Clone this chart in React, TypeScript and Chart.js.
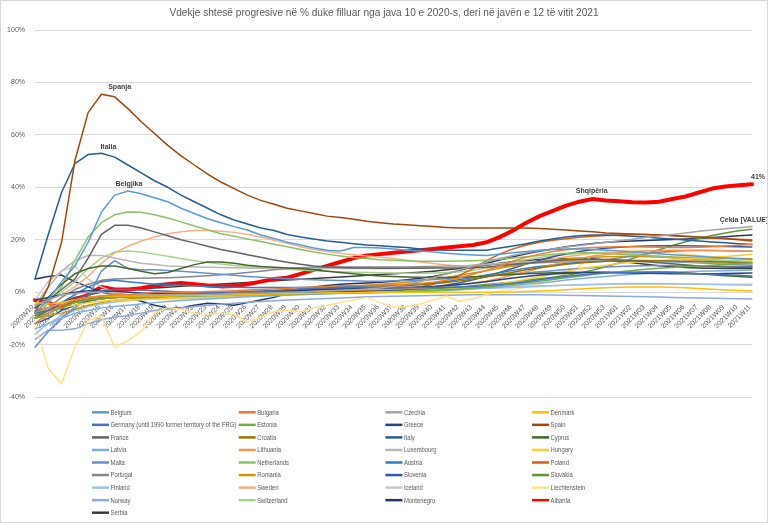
import React, { useEffect, useRef } from 'react';
import { Chart, registerables } from 'chart.js';

Chart.register(...registerables);

const chartTitle = 'Vdekje shtesë progresive në % duke filluar nga java 10 e 2020-s, deri në javën e 12 të vitit 2021';

const weeks = [
  '2020W10', '2020W11', '2020W12', '2020W13', '2020W14', '2020W15', '2020W16', '2020W17', '2020W18', '2020W19',
  '2020W20', '2020W21', '2020W22', '2020W23', '2020W24', '2020W25', '2020W26', '2020W27', '2020W28', '2020W29',
  '2020W30', '2020W31', '2020W32', '2020W33', '2020W34', '2020W35', '2020W36', '2020W37', '2020W38', '2020W39',
  '2020W40', '2020W41', '2020W42', '2020W43', '2020W44', '2020W45', '2020W46', '2020W47', '2020W48', '2020W49',
  '2020W50', '2020W51', '2020W52', '2020W53', '2021W01', '2021W02', '2021W03', '2021W04', '2021W05', '2021W06',
  '2021W07', '2021W08', '2021W09', '2021W10', '2021W11',
];

const yTicks = [-40, -20, 0, 20, 40, 60, 80, 100];

const countries = [
  'Belgium', 'Bulgaria', 'Czechia', 'Denmark',
  'Germany (until 1990 former territory of the FRG)', 'Estonia', 'Greece', 'Spain',
  'France', 'Croatia', 'Italy', 'Cyprus',
  'Latvia', 'Lithuania', 'Luxembourg', 'Hungary',
  'Malta', 'Netherlands', 'Austria', 'Poland',
  'Portugal', 'Romania', 'Slovenia', 'Slovakia',
  'Finland', 'Sweden', 'Iceland', 'Liechtenstein',
  'Norway', 'Switzerland', 'Montenegro', 'Albania',
  'Serbia',
];

const colors = [
  '#5B9BD5', '#ED7D31', '#A5A5A5', '#FFC000',
  '#4472C4', '#70AD47', '#264478', '#9E480E',
  '#636363', '#997300', '#255E91', '#43682B',
  '#7CAFDD', '#F1975A', '#B7B7B7', '#FFCD33',
  '#698ED0', '#8CC168', '#327DC2', '#D26012',
  '#878787', '#CC9A00', '#335AA1', '#5E9732',
  '#9DC3E6', '#F4B183', '#C9C9C9', '#FFE18B',
  '#8FAADC', '#A9D18E', '#1F3864', '#FF0000',
  '#3B3B3B',
];

// cumulative excess deaths, % per week
const belgium = [-8, -3, 4, 10, 19, 30.5, 37, 38.6, 37.5, 36, 34.5, 32, 30, 28, 26.5, 25, 23.7, 21.8, 20.5, 19, 18, 16.8, 16, 15.7, 17, 17, 16.8, 16.5, 16, 15.7, 15.3, 14.8, 14.5, 14.2, 14, 14.5, 15, 15.5, 16, 16.3, 16.5, 16.5, 16.3, 16, 15.7, 15.3, 15, 14.6, 14.3, 14, 13.7, 13.3, 13, 12.7, 12.5];
const bulgaria = [-12, -8, -5, -3, -2, -1.5, -1, -1, -0.5, 0, 0, 0, 0, 0.2, 0.3, 0.5, 0.8, 1, 1.2, 1.5, 1.8, 2, 2.2, 2.4, 2.5, 2.6, 2.7, 2.8, 3, 3.3, 3.8, 4.5, 5.5, 6.8, 8.3, 10, 11.8, 13.3, 14.5, 15.5, 16.2, 16.7, 17, 17.2, 17.3, 17.3, 17.2, 17.1, 17, 17, 17.1, 17.3, 17.6, 17.9, 18.2];
const czechia = [-5, -3, -1, -0.5, 0, 0, -0.5, -1, -1, -1, -1, -1, -1, -0.8, -0.7, -0.5, -0.4, -0.3, -0.2, 0, 0, 0.2, 0.4, 0.6, 0.8, 1.2, 1.6, 2.2, 3, 4, 5.5, 7, 8.5, 10, 11.5, 12.8, 14, 15, 15.8, 16.5, 17.2, 17.8, 18.4, 19, 19.6, 20.2, 20.8, 21.4, 22, 22.6, 23.2, 23.7, 24.2, 24.6, 25];
const denmark = [-4, -4.5, -4, -3, -2, -1.5, -1.5, -1.5, -1.5, -1.5, -1.5, -1.3, -1.2, -1.2, -1.2, -1, -1, -0.8, -0.7, -0.6, -0.5, -0.4, -0.3, -0.2, -0.2, -0.1, 0, 0, 0, 0, 0, 0, 0, 0, 0, 0, 0.1, 0.2, 0.4, 0.6, 0.9, 1.2, 1.5, 1.7, 1.9, 2, 2, 2, 1.9, 1.7, 1.4, 1.1, 0.8, 0.6, 0.4];
const germany = [-8, -7, -5, -3, -1, 0.5, 1, 1, 0.8, 0.5, 0.3, 0.1, 0, 0, 0, 0, 0.2, 0.4, 0.6, 1, 1.3, 1.5, 1.6, 1.7, 1.8, 1.8, 1.8, 1.8, 1.8, 1.8, 1.8, 1.9, 2, 2.2, 2.5, 2.9, 3.4, 4, 4.7, 5.4, 6, 6.5, 7, 7.3, 7.5, 7.6, 7.6, 7.5, 7.4, 7.2, 7, 6.8, 6.6, 6.4, 6.2];
const estonia = [-10, -8, -6, -4, -3, -2.5, -2, -2, -2, -2, -1.8, -1.6, -1.5, -1.4, -1.3, -1.2, -1.1, -1, -0.9, -0.8, -0.7, -0.6, -0.5, -0.4, -0.3, -0.2, -0.1, 0, 0.2, 0.4, 0.6, 0.9, 1.2, 1.6, 2, 2.5, 3, 3.6, 4.2, 4.8, 5.5, 6.1, 6.7, 7.3, 7.8, 8.3, 8.7, 9.1, 9.4, 9.7, 10, 10.3, 10.6, 10.9, 11.2];
const greece = [-3, -2, -1, 0, 0.5, 0.5, 0.3, 0, -0.3, -0.5, -0.7, -0.8, -0.8, -0.8, -0.7, -0.6, -0.5, -0.3, 0, 0.3, 0.6, 0.9, 1.1, 1.3, 1.4, 1.5, 1.6, 1.7, 1.8, 2, 2.2, 2.5, 2.9, 3.4, 4, 4.7, 5.4, 6, 6.5, 6.9, 7.2, 7.4, 7.5, 7.5, 7.4, 7.3, 7.2, 7.1, 7, 7, 7, 7, 7.1, 7.2, 7.3];
const spain = [-8, 2, 19, 50, 68.5, 75.5, 74.5, 70, 65, 60.5, 56, 52, 48.5, 45, 42, 39.5, 37, 35, 33.5, 32, 31, 30, 29, 28.5, 27.8, 27, 26.5, 26, 25.7, 25.3, 25, 24.7, 24.5, 24.5, 24.5, 24.5, 24.5, 24.5, 24.3, 24, 23.7, 23.3, 23, 22.6, 22.4, 22.2, 22, 21.8, 21.6, 21.3, 21, 20.7, 20.4, 20, 19.5];
const france = [-6, -3, 1, 5, 13, 22, 25.5, 25.5, 24.5, 23, 21.5, 20, 18.8, 17.5, 16.3, 15.3, 14.3, 13.3, 12.3, 11.4, 10.6, 10, 9.6, 9.4, 9.2, 9.2, 9.1, 9.1, 9.1, 9.1, 9.2, 9.2, 9.2, 9.3, 9.5, 10, 10.5, 11, 11.5, 12, 12.3, 12.5, 12.5, 12.5, 12.3, 12, 11.6, 11.2, 10.8, 10.4, 10, 9.8, 9.6, 9.5, 9.5];
const croatia = [-9, -7, -5, -4, -3, -2.5, -2, -1.8, -1.6, -1.4, -1.2, -1, -0.8, -0.6, -0.4, -0.2, 0, 0.2, 0.4, 0.6, 0.8, 1, 1.2, 1.4, 1.6, 1.8, 2, 2.2, 2.5, 2.8, 3.2, 3.7, 4.3, 5, 5.8, 6.7, 7.6, 8.5, 9.3, 10, 10.6, 11.1, 11.5, 11.8, 12, 12.1, 12.1, 12, 11.9, 11.8, 11.7, 11.6, 11.5, 11.4, 11.3];
const italy = [5, 22, 38, 49, 52.5, 53, 51.5, 48.5, 45.5, 42.5, 40, 37, 34.5, 32, 29.5, 27.5, 26, 24.5, 23.5, 22, 21, 20.3, 19.5, 19, 18.5, 18, 17.7, 17.3, 17, 16.5, 16.2, 16, 16, 16, 16, 16.8, 17.6, 18.5, 19.5, 20.3, 21, 21.5, 21.8, 21.8, 21.6, 21.3, 21, 20.6, 20.3, 19.9, 19.5, 19.1, 18.8, 18.5, 18.2];
const cyprus = [-6, -2, 3, 7, 9, 10, 10, 9, 8, 7, 7.5, 9, 10.5, 11.5, 11.5, 11, 10.3, 9.8, 9.5, 9.2, 9, 8.5, 8, 7.5, 7, 6.5, 6.2, 6, 5.8, 5.7, 5.6, 5.6, 5.7, 5.9, 6.1, 6.4, 6.7, 7, 7.2, 7.4, 7.5, 7.6, 7.6, 7.6, 7.5, 7.5, 7.6, 7.7, 7.6, 7.3, 7, 6.6, 6.3, 6, 5.7];
const latvia = [-14, -12, -10, -8, -7, -6, -5.5, -5, -4.5, -4, -3.6, -3.2, -2.9, -2.6, -2.3, -2, -1.8, -1.6, -1.4, -1.2, -1, -0.8, -0.6, -0.4, -0.3, -0.2, -0.1, 0, 0.1, 0.2, 0.4, 0.6, 0.9, 1.2, 1.6, 2, 2.5, 3, 3.5, 4, 4.6, 5.1, 5.6, 6, 6.4, 6.8, 7.1, 7.4, 7.6, 7.8, 8, 8.1, 8.2, 8.3, 8.4];
const lithuania = [-8, -6, -4, -3, -2, -1.5, -1, -1, -0.8, -0.6, -0.5, -0.4, -0.3, -0.2, -0.1, 0, 0.1, 0.2, 0.3, 0.4, 0.5, 0.6, 0.7, 0.8, 0.9, 1, 1.1, 1.2, 1.4, 1.6, 1.9, 2.3, 2.8, 3.5, 4.3, 5.3, 6.5, 7.8, 9.2, 10.5, 11.7, 12.8, 13.7, 14.4, 15, 15.4, 15.7, 15.9, 16, 16, 16, 15.9, 15.8, 15.7, 15.6];
const luxembourg = [-5, 2, 8, 12, 14, 14, 13, 12, 11, 10.5, 10, 9.8, 9.6, 9.5, 9.4, 9.3, 9.2, 9.1, 9, 9, 9, 9, 9, 9, 9, 9, 9, 9, 9.1, 9.2, 9.4, 9.7, 10, 10.3, 10.6, 10.9, 11.2, 11.4, 11.6, 11.8, 12, 12.1, 12.2, 12.2, 12.2, 12.1, 12, 11.9, 11.8, 11.6, 11.4, 11.2, 11, 10.8, 10.6];
const hungary = [-8, -7, -6, -5, -4, -3.5, -3, -3, -2.8, -2.6, -2.4, -2.2, -2, -1.8, -1.6, -1.4, -1.2, -1, -0.9, -0.8, -0.7, -0.6, -0.5, -0.4, -0.3, -0.2, -0.1, 0, 0.2, 0.4, 0.7, 1, 1.4, 1.9, 2.5, 3.2, 4, 4.9, 5.9, 6.9, 7.9, 8.8, 9.6, 10.3, 10.9, 11.4, 11.8, 12.1, 12.4, 12.7, 13, 13.3, 13.6, 14, 14.5];
const malta = [-21, -15, -10, -6, -2, 8, 12, 9, 8.5, 8.5, 8.3, 8, 7.6, 7.2, 6.8, 6.4, 6, 5.7, 5.4, 5.1, 4.9, 4.7, 4.5, 4.4, 4.3, 4.2, 4.2, 4.3, 4.4, 4.6, 4.8, 5.1, 5.4, 5.8, 6.2, 6.6, 7, 7.4, 7.8, 8.2, 8.6, 9, 9.3, 9.6, 9.8, 10, 10.1, 10.2, 10.2, 10.2, 10.1, 10, 9.9, 9.8, 9.7];
const netherlands = [-10, -4, 2, 12, 21, 26.5, 29.5, 30.6, 30.5, 29.5, 28.3, 26.8, 25.2, 23.8, 22.3, 21.3, 20.3, 19.3, 18.3, 17.3, 16.3, 15.3, 14.5, 13.8, 13.2, 12.8, 12.4, 12.2, 12, 11.8, 11.8, 11.8, 11.9, 12, 12.2, 12.5, 13, 13.5, 14, 14.5, 14.8, 15, 15, 14.8, 14.5, 14.2, 14, 13.6, 13.2, 12.8, 12.4, 12, 11.6, 11.3, 11];
const austria = [-10, -7, -4, -1, 2, 4, 4.5, 4, 3.5, 3, 2.8, 2.6, 2.4, 2.2, 2, 1.9, 1.8, 1.8, 1.8, 1.8, 1.8, 1.9, 2, 2.1, 2.2, 2.3, 2.4, 2.6, 2.8, 3.1, 3.5, 4.1, 4.8, 5.6, 6.5, 7.4, 8.3, 9.1, 9.8, 10.4, 10.9, 11.3, 11.6, 11.8, 11.9, 11.9, 11.8, 11.7, 11.6, 11.4, 11.2, 11, 10.8, 10.6, 10.4];
const poland = [-7, -6, -5, -4, -3, -2.5, -2, -1.8, -1.6, -1.4, -1.2, -1, -0.8, -0.6, -0.4, -0.2, 0, 0.1, 0.2, 0.3, 0.4, 0.5, 0.6, 0.7, 0.8, 0.9, 1, 1.2, 1.5, 2, 3, 4.5, 6.5, 9, 12, 14.5, 16.5, 18, 19, 19.8, 20.4, 20.9, 21.3, 21.6, 21.8, 22, 22, 21.8, 21.5, 21.2, 21, 20.8, 20.5, 20.2, 20];
const portugal = [-10, -6, -2, 1, 3, 4.5, 5, 5.2, 5.3, 5.4, 5.5, 5.7, 6, 6.3, 6.6, 7, 7.5, 8, 8.5, 9, 9.3, 9.5, 9.6, 9.6, 9.6, 9.6, 9.6, 9.6, 9.6, 9.7, 9.8, 9.9, 10, 10.2, 10.4, 10.6, 10.8, 11, 11.2, 11.4, 11.6, 11.8, 12, 12.4, 13, 13.8, 14.6, 15.2, 15.6, 15.8, 15.9, 15.9, 15.8, 15.7, 15.6];
const romania = [-10, -9, -8, -6.5, -5, -4, -3.2, -2.6, -2.2, -1.9, -1.6, -1.4, -1.2, -1, -0.8, -0.6, -0.4, -0.2, 0, 0.3, 0.6, 1, 1.4, 1.8, 2.2, 2.6, 3, 3.4, 3.8, 4.3, 4.9, 5.6, 6.4, 7.3, 8.2, 9.1, 10, 10.8, 11.5, 12.1, 12.6, 13, 13.3, 13.5, 13.6, 13.6, 13.5, 13.4, 13.3, 13.2, 13.1, 13, 12.9, 12.8, 12.7];
const slovenia = [-12, -10, -7, -5, -3.5, -2.5, -2, -1.8, -1.6, -1.4, -1.2, -1, -0.9, -0.8, -0.7, -0.6, -0.5, -0.4, -0.3, -0.2, -0.1, 0, 0.1, 0.2, 0.3, 0.4, 0.6, 0.8, 1.1, 1.5, 2, 2.7, 3.6, 4.7, 6, 7.5, 9.1, 10.7, 12.2, 13.5, 14.6, 15.5, 16.2, 16.7, 17.1, 17.4, 17.6, 17.7, 17.7, 17.7, 17.6, 17.5, 17.4, 17.3, 17.2];
const slovakia = [-8, -7, -5, -3.5, -2.5, -2, -1.8, -1.6, -1.4, -1.2, -1.1, -1, -0.9, -0.8, -0.7, -0.6, -0.5, -0.4, -0.3, -0.2, -0.1, 0, 0.1, 0.2, 0.3, 0.4, 0.5, 0.6, 0.8, 1, 1.3, 1.6, 2, 2.4, 2.9, 3.4, 3.9, 4.5, 5.1, 5.7, 6.4, 7.3, 8.4, 9.7, 11.2, 12.8, 14.5, 16.2, 17.8, 19.2, 20.5, 21.6, 22.6, 23.4, 24];
const finland = [-16, -12, -9, -7, -5.5, -4.5, -3.8, -3.3, -2.9, -2.6, -2.3, -2.1, -1.9, -1.7, -1.5, -1.3, -1.1, -0.9, -0.7, -0.5, -0.3, -0.1, 0.1, 0.3, 0.5, 0.6, 0.7, 0.8, 0.9, 1, 1.1, 1.2, 1.3, 1.4, 1.5, 1.6, 1.8, 2, 2.2, 2.4, 2.6, 2.8, 3, 3.1, 3.2, 3.3, 3.3, 3.3, 3.2, 3.1, 3, 2.9, 2.8, 2.7, 2.6];
const sweden = [-5, -3, -1, 2, 6, 11, 15, 17.5, 19.5, 21, 22.3, 23, 23.5, 23.5, 23.2, 22.8, 22, 21, 19.8, 18.6, 17.3, 16.3, 15.5, 14.8, 14.3, 13.8, 13.3, 12.8, 12.2, 11.5, 10.9, 10.4, 10, 9.6, 9.4, 9.5, 10, 10.8, 11.7, 12.7, 13.5, 14.2, 14.8, 15, 15, 14.7, 14.2, 13.6, 13, 12.4, 11.8, 11.3, 10.8, 10.4, 10];
const iceland = [-3, 4, 8, 10, 5, 2, 0, -1, -2, -2.5, -2.5, -2.5, -2.3, -2.1, -1.9, -1.7, -1.5, -1.3, -1.1, -0.9, -0.7, -0.5, -0.3, -0.1, 0.1, 0.3, 0.5, 0.7, 0.9, 1.1, 1.3, 1.5, 1.7, 1.9, 2, 2.1, 2.2, 2.3, 2.4, 2.5, 2.6, 2.7, 2.8, 2.9, 3, 3, 3, 3, 3, 3, 3, 3, 3, 3, 3];
const liechtenstein = [-12, -29, -35, -21, -11, -9, -21, -18.5, -15, -8, -5.8, -6.5, -8, -8.5, -8, -8.5, -11.5, -9.5, -7.5, -7, -7.5, -6, -5, -4, -3, -2, -4, -5.7, -5.5, -4.5, -3, -1.5, -3.5, -2.5, -1, 0.5, 1, 2, 3, 5, 7, 10, 14, 15.5, 16, 16, 16, 15.5, 15, 14.5, 14, 13.5, 13, 12.5, 12];
const norway = [-18, -14.5, -14.5, -14, -12, -10.5, -9.5, -9, -8, -7, -6.5, -6, -5.5, -5, -4.6, -4.2, -3.9, -3.6, -3.3, -3, -2.8, -2.6, -2.4, -2.2, -2, -1.8, -1.7, -1.6, -1.5, -1.4, -1.3, -1.2, -1.1, -1, -1, -1, -1, -1, -1, -1.1, -1.2, -1.3, -1.4, -1.5, -1.6, -1.7, -1.8, -1.9, -2, -2.1, -2.2, -2.3, -2.4, -2.5, -2.6];
const switzerland = [-6, -3, 0, 4, 9, 13, 15.3, 15.7, 15.3, 14.5, 13.7, 12.8, 12, 11.3, 10.7, 10.2, 9.7, 9.3, 9, 8.7, 8.4, 8.2, 8, 7.8, 7.6, 7.5, 7.4, 7.3, 7.2, 7.2, 7.3, 7.5, 7.8, 8.3, 9.2, 10.3, 11.4, 12.4, 13.2, 13.9, 14.4, 14.7, 14.8, 14.8, 14.6, 14.4, 14.1, 13.8, 13.4, 13.1, 12.8, 12.5, 12.2, 12, 11.8];
const montenegro = [5, 6, 6.5, 4, 2, 0, -1, -2, -3.5, -5, -6, -6, -5, -4.2, -4.5, -5, -4, -3, -2, -0.5, 1, 2, 2.5, 3, 3.3, 3.5, 3.8, 4.2, 4.7, 5.3, 6, 7, 8.3, 9.7, 11, 12.3, 13.5, 14.6, 15.6, 16.5, 17.3, 18, 18.6, 19, 19.3, 19.5, 19.7, 19.9, 20.1, 20.3, 20.5, 20.8, 21.1, 21.5, 21.8];
const albania = [-3, -4, -6, -3, -1, 2, 1, 1, 1.5, 2.5, 3, 3.5, 3, 2.5, 2.2, 2.3, 3, 4, 5, 5.5, 7, 8.5, 10, 11.5, 13, 14, 14.5, 15, 15.5, 16, 16.5, 17, 17.5, 18, 19, 21, 23.5, 26.5, 29, 31, 33, 34.5, 35.5, 35, 34.7, 34.3, 34.2, 34.5, 35.5, 36.5, 38, 39.5, 40.3, 40.8, 41.2];
const serbia = [-8, -6, -4, -2, -1, 0, 0.5, 1, 1.3, 1.6, 1.9, 2.2, 2.5, 2.8, 3.1, 3.4, 3.7, 4, 4.3, 4.6, 4.9, 5.2, 5.5, 5.8, 6.1, 6.4, 6.7, 7, 7.3, 7.6, 8, 8.5, 9, 9.6, 10.3, 11, 11.6, 12.1, 12.5, 12.7, 12.8, 12.8, 12.7, 12.3, 11.8, 11.2, 10.6, 10.1, 9.7, 9.4, 9.2, 9.1, 9, 9, 9];

const seriesValues = [
  belgium, bulgaria, czechia, denmark,
  germany, estonia, greece, spain,
  france, croatia, italy, cyprus,
  latvia, lithuania, luxembourg, hungary,
  malta, netherlands, austria, poland,
  portugal, romania, slovenia, slovakia,
  finland, sweden, iceland, liechtenstein,
  norway, switzerland, montenegro, albania,
  serbia,
];

// text labels hung on single points: [series, week index, text]
const pointLabels: [string, number, string][] = [
  ['Spain', 6, 'Spanja'],
  ['Italy', 5, 'Italia'],
  ['Belgium', 7, 'Belgjika'],
  ['Albania', 42, 'Shqipëria'],
  ['Albania', 54, '41%'],
  ['Czechia', 54, 'Çekia [VALUE]'],
];
const labelOffsets = [[5, -10], [7, -6], [1, -7], [-1, -8], [6, -7], [-8, -7]];

const FONT = '"Liberation Sans", Arial, sans-serif';

// Calibri-like narrow text
function narrowText(ctx: CanvasRenderingContext2D, text: string, x: number, y: number, squeeze: number) {
  ctx.save();
  ctx.translate(x, y);
  ctx.scale(squeeze, 1);
  ctx.fillText(text, 0, 0);
  ctx.restore();
}

const overlay = {
  id: 'overlay',
  afterDraw(chart: any) {
    const ctx = chart.ctx as CanvasRenderingContext2D;
    ctx.save();

    ctx.fillStyle = '#595959';
    ctx.font = `11.5px ${FONT}`;
    ctx.textAlign = 'center';
    ctx.textBaseline = 'middle';
    narrowText(ctx, chartTitle, chart.width / 2, 12, 0.88);

    ctx.fillStyle = '#404040';
    ctx.font = `bold 7px ${FONT}`;
    pointLabels.forEach(([name, idx, text], k) => {
      const di = countries.indexOf(name);
      const pt = chart.getDatasetMeta(di).data[idx];
      if (!pt) return;
      ctx.fillText(text, pt.x + labelOffsets[k][0], pt.y + labelOffsets[k][1]);
    });

    // legend in four columns
    ctx.font = `7px ${FONT}`;
    ctx.textAlign = 'left';
    chart.data.datasets.forEach((ds: any, k: number) => {
      const x = 91 + (k % 4) * 146.7;
      const y = 411.3 + Math.floor(k / 4) * 12.55;
      ctx.strokeStyle = ds.borderColor;
      ctx.lineWidth = 2.5;
      ctx.beginPath();
      ctx.moveTo(x, y);
      ctx.lineTo(x + 17, y);
      ctx.stroke();
      ctx.fillStyle = '#595959';
      narrowText(ctx, ds.label, x + 18.5, y + 0.5, 0.84);
    });

    ctx.restore();
  },
};

export default function App() {
  const canvasRef = useRef<HTMLCanvasElement>(null);
  const chartRef = useRef<Chart | null>(null);

  useEffect(() => {
    document.body.style.margin = '0';
    if (!canvasRef.current) return;
    if (chartRef.current) chartRef.current.destroy();

    chartRef.current = new Chart(canvasRef.current, {
      type: 'line',
      data: {
        labels: weeks,
        datasets: countries.map((name, k) => ({
          label: name,
          data: seriesValues[k],
          borderColor: colors[k],
          backgroundColor: colors[k],
          borderWidth: name === 'Albania' ? 4 : 1.5,
          borderJoinStyle: 'round' as const,
          borderCapStyle: 'round' as const,
          pointRadius: 0,
          tension: 0,
          fill: false,
        })),
      },
      options: {
        animation: false,
        responsive: true,
        maintainAspectRatio: false,
        events: [],
        layout: { padding: { top: 29, right: 15, bottom: 125, left: 0 } },
        scales: {
          x: {
            position: { y: 0 } as any,
            afterFit: (scale: any) => { scale.height = 0; },
            grid: { display: false },
            border: { display: true, color: '#d9d9d9' },
            ticks: {
              autoSkip: false,
              maxRotation: 45,
              minRotation: 45,
              padding: 3,
              labelOffset: -2,
              color: '#595959',
              font: { size: 7, family: FONT },
            },
          },
          y: {
            min: -40,
            max: 100,
            afterFit: (scale: any) => { scale.width = 34; },
            afterBuildTicks: (scale: any) => { scale.ticks = yTicks.map((v) => ({ value: v })); },
            grid: { color: '#d9d9d9', drawTicks: false },
            border: { display: false },
            ticks: {
              padding: 10,
              color: '#595959',
              font: { size: 7, family: FONT },
              callback: (v: any) => `${v}%`,
            },
          },
        },
        plugins: {
          legend: { display: false },
          title: { display: false },
          tooltip: { enabled: false },
        },
      },
      plugins: [overlay],
    });

    return () => {
      if (chartRef.current) {
        chartRef.current.destroy();
        chartRef.current = null;
      }
    };
  }, []);

  return (
    <div
      style={{
        width: 768,
        height: 523,
        border: '1px solid #d9d9d9',
        boxSizing: 'border-box',
        position: 'relative',
        background: '#fff',
      }}
    >
      <canvas ref={canvasRef} />
    </div>
  );
}
